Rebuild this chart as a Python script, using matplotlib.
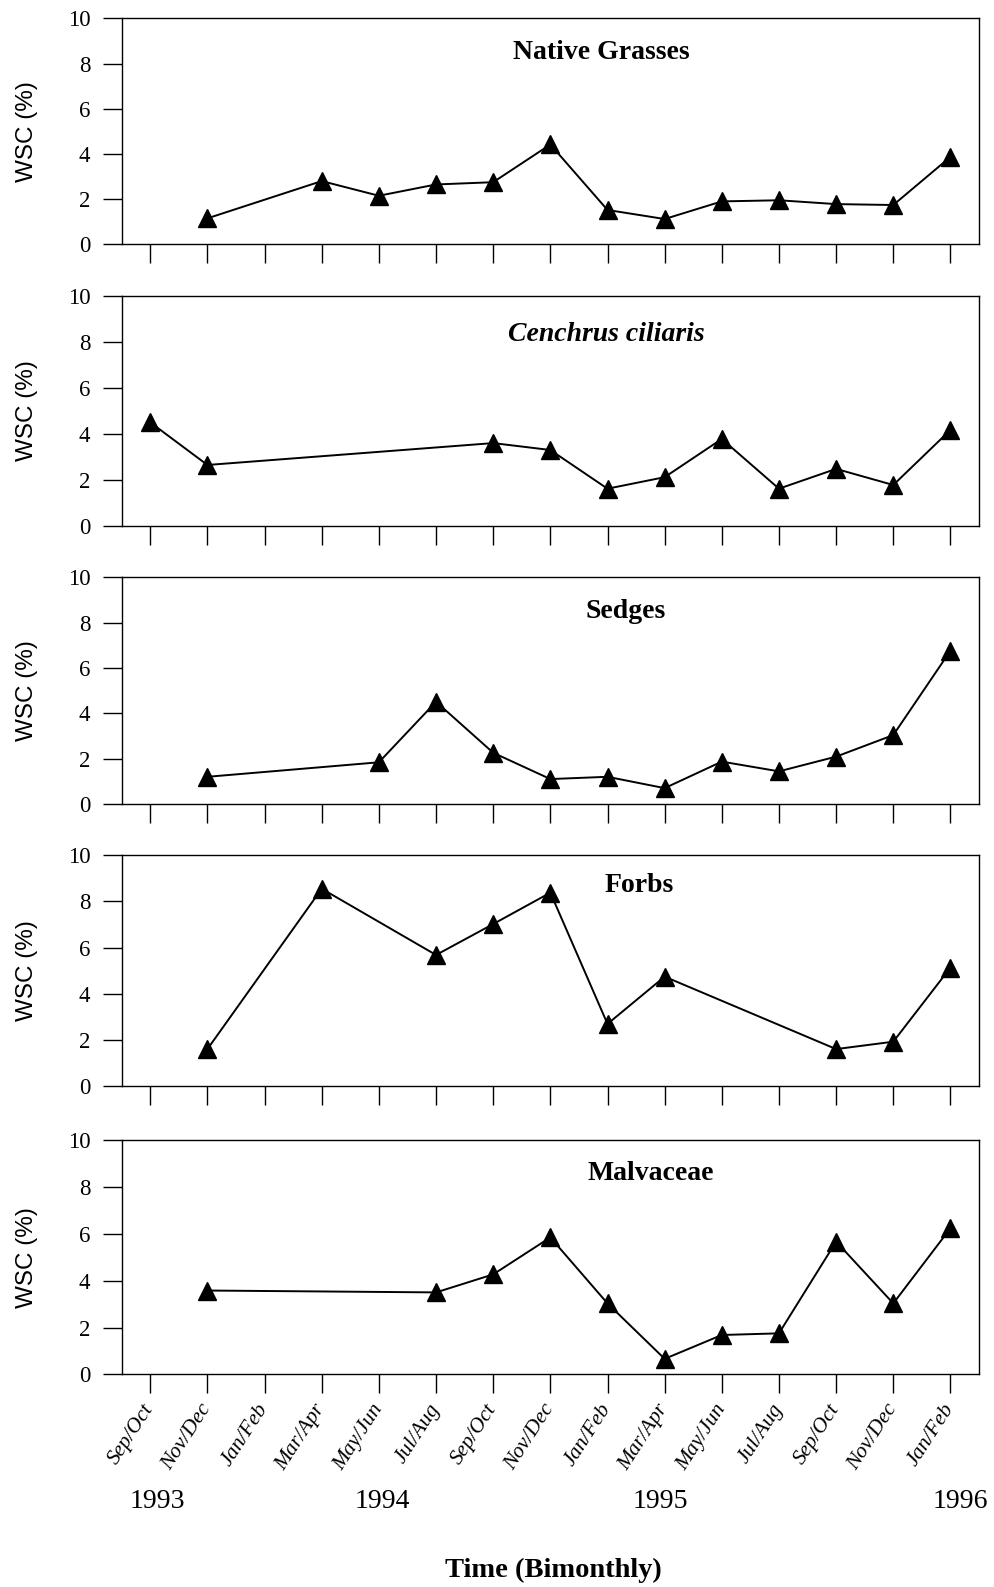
import numpy as np
import matplotlib
matplotlib.use("Agg")
import matplotlib.pyplot as plt
from matplotlib.transforms import blended_transform_factory

plt.rcParams['font.family'] = ['Liberation Serif', 'DejaVu Serif']

# ---- data ----
periods = ["Sep/Oct", "Nov/Dec", "Jan/Feb", "Mar/Apr", "May/Jun", "Jul/Aug",
           "Sep/Oct", "Nov/Dec", "Jan/Feb", "Mar/Apr", "May/Jun", "Jul/Aug",
           "Sep/Oct", "Nov/Dec", "Jan/Feb"]
nan = np.nan
native_grasses = [nan, 1.15, nan, 2.80, 2.15, 2.65, 2.75, 4.42, 1.52, 1.12, 1.90, 1.95, 1.78, 1.74, 3.87]
cenchrus = [4.50, 2.65, nan, nan, nan, nan, 3.60, 3.30, 1.62, 2.12, 3.78, 1.62, 2.48, 1.78, 4.17]
sedges = [nan, 1.20, nan, nan, 1.84, 4.51, 2.26, 1.10, 1.20, 0.70, 1.87, 1.44, 2.09, 3.04, 6.76]
forbs = [nan, 1.60, nan, 8.55, nan, 5.68, 7.02, 8.38, 2.69, 4.74, nan, nan, 1.60, 1.92, 5.13]
malvaceae = [nan, 3.58, nan, nan, nan, 3.50, 4.27, 5.85, 3.03, 0.66, 1.68, 1.75, 5.67, 3.03, 6.24]
panel_titles = ["Native Grasses", "Cenchrus ciliaris", "Sedges", "Forbs", "Malvaceae"]
panel_series = [native_grasses, cenchrus, sedges, forbs, malvaceae]
year_labels = ["1993", "1994", "1995", "1996"]
y_ticks = [0, 2, 4, 6, 8, 10]

# ---- layout ----
W, H = 994, 1587
fig = plt.figure(figsize=(W / 100, H / 100), dpi=100)
left_px, right_px = 121.7, 979.0
panel_px = [(18.5, 244.3), (295.7, 526.0), (577.3, 804.0), (855.3, 1086.0), (1140.3, 1374.3)]
title_pos = [(0.56, 0.85), (0.565, 0.83), (0.588, 0.847), (0.604, 0.87), (0.617, 0.86)]
year_x = [0.13, 4.06, 8.93, 14.18]

x = np.arange(len(periods))
axes = []
for i, ((t, b), title, vals) in enumerate(zip(panel_px, panel_titles, panel_series)):
    ax = fig.add_axes([left_px / W, 1 - b / H, (right_px - left_px) / W, (b - t) / H])
    axes.append(ax)
    v = np.array(vals, dtype=float)
    m = ~np.isnan(v)
    ax.plot(x[m], v[m], color='black', linewidth=1.4, marker='^',
            markersize=12.5, markerfacecolor='black', markeredgecolor='black',
            clip_on=False, zorder=3)
    ax.set_xlim(-0.5, len(periods) - 0.5)
    ax.set_ylim(0, 10)
    ax.set_yticks(y_ticks)
    ax.set_xticks(x)
    for s in ax.spines.values():
        s.set_linewidth(1.0)
    ax.tick_params(axis='y', direction='out', length=13.7, width=1.0, pad=9,
                   labelsize=16.5)
    ax.tick_params(axis='x', direction='out', length=13.7, width=1.0)
    # y label, centred at a fixed figure x
    fig.text(27 / W, 1 - (t + b) / 2 / H, "WSC (%)", rotation=90,
             ha='center', va='center', fontfamily='Liberation Sans', fontsize=17.5)
    style = 'italic' if i == 1 else 'normal'
    ax.text(title_pos[i][0], title_pos[i][1], title, transform=ax.transAxes,
            ha='center', va='center', fontsize=20, fontweight='bold', fontstyle=style)
    if i < len(panel_px) - 1:
        ax.set_xticklabels([])
    else:
        ax.set_xticklabels(periods, rotation=57, ha='right', va='center',
                           rotation_mode='anchor', fontstyle='italic', fontsize=15.5)
        ax.tick_params(axis='x', pad=9)

ax5 = axes[-1]
tr = blended_transform_factory(ax5.transData, fig.transFigure)
for yl, xp in zip(year_labels, year_x):
    ax5.text(xp, 1 - 1502 / H, yl, transform=tr, ha='center', va='center', fontsize=20)

fig.text(553.5 / W, 1 - 1570 / H, "Time (Bimonthly)", ha='center', va='center',
         fontsize=20.5, fontweight='bold')

fig.savefig("out.png", dpi=100)
